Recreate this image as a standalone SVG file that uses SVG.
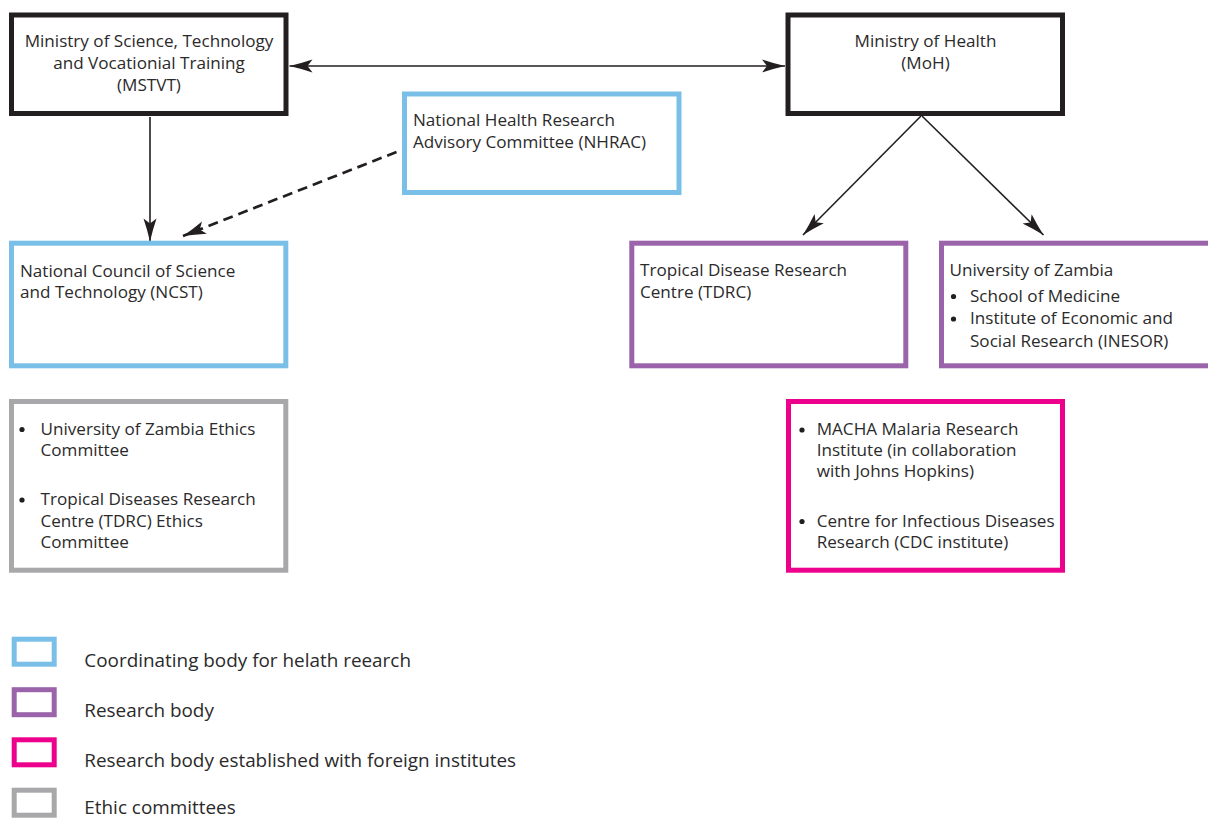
<svg xmlns="http://www.w3.org/2000/svg" width="1208" height="820" viewBox="0 0 1208 820">
<style>
text{font-family:"Open Sans","Liberation Sans",sans-serif;font-size:17.1px;fill:#2b2a2b}
.c{text-anchor:middle}
.lg{font-size:18.9px}
.box{fill:#fff;stroke-width:5}
.k{stroke:#231f20}
.b{stroke:#79bfe8}
.p{stroke:#9a63aa}
.m{stroke:#ec008c}
.g{stroke:#a8a8ab}
.ln{fill:none;stroke:#231f20;stroke-width:1.6}
.ds{fill:none;stroke:#231f20;stroke-width:2.7;stroke-dasharray:10 6}
.dot{fill:#231f20}
</style>
<defs>
<marker id="ah" viewBox="-24 -8 26 16" refX="0" refY="0" markerWidth="26" markerHeight="16" markerUnits="userSpaceOnUse" orient="auto-start-reverse">
<path d="M0,0 Q-11,-2.5 -23,-6.5 L-18,0 L-23,6.5 Q-11,2.5 0,0 Z" fill="#231f20"/>
</marker>
</defs>
<g id="connectors">
<line class="ln" x1="289.5" y1="66" x2="785" y2="66" marker-start="url(#ah)" marker-end="url(#ah)"/>
<line class="ln" x1="150" y1="117" x2="150" y2="241.5" marker-end="url(#ah)"/>
<line class="ds" x1="396.5" y1="152" x2="183" y2="236" marker-end="url(#ah)"/>
<line class="ln" x1="921" y1="116" x2="803" y2="235" marker-end="url(#ah)"/>
<line class="ln" x1="922" y1="116" x2="1043.5" y2="235" marker-end="url(#ah)"/>
</g>
<g id="mstvt">
<rect class="box k" x="11.5" y="15" width="274.5" height="98.5"/>
<text class="c" x="149" y="47">Ministry of Science, Technology</text>
<text class="c" x="149" y="69">and Vocationial Training</text>
<text class="c" x="149" y="91">(MSTVT)</text>
</g>
<g id="moh">
<rect class="box k" x="788" y="15" width="274.5" height="98.5"/>
<text class="c" x="925.5" y="47">Ministry of Health</text>
<text class="c" x="925.5" y="69">(MoH)</text>
</g>
<g id="nhrac">
<rect class="box b" x="404.5" y="94" width="274.5" height="98.5"/>
<text x="413" y="126">National Health Research</text>
<text x="413" y="148">Advisory Committee (NHRAC)</text>
</g>
<g id="ncst">
<rect class="box b" x="11.5" y="243.2" width="274.3" height="122.6"/>
<text x="20" y="276.5">National Council of Science</text>
<text x="20" y="298">and Technology (NCST)</text>
</g>
<g id="tdrc">
<rect class="box p" x="631.8" y="243.2" width="274" height="122.6"/>
<text x="640" y="276">Tropical Disease Research</text>
<text x="640" y="297.5">Centre (TDRC)</text>
</g>
<g id="unza">
<rect class="box p" x="941.5" y="243.2" width="274.5" height="122.6"/>
<text x="949.5" y="276">University of Zambia</text>
<circle class="dot" cx="953.5" cy="296.5" r="2.6"/>
<text x="970" y="301.5">School of Medicine</text>
<circle class="dot" cx="953.5" cy="319" r="2.6"/>
<text x="970" y="324">Institute of Economic and</text>
<text x="970" y="346.5">Social Research (INESOR)</text>
</g>
<g id="ethics">
<rect class="box g" x="11.5" y="401.5" width="274.3" height="168.7"/>
<circle class="dot" cx="22" cy="429.5" r="2.6"/>
<text x="40.5" y="434.5">University of Zambia Ethics</text>
<text x="40.5" y="456">Committee</text>
<circle class="dot" cx="22" cy="500" r="2.6"/>
<text x="40.5" y="505">Tropical Diseases Research</text>
<text x="40.5" y="526.5">Centre (TDRC) Ethics</text>
<text x="40.5" y="548">Committee</text>
</g>
<g id="macha">
<rect class="box m" x="788.5" y="401.5" width="274" height="168.7"/>
<circle class="dot" cx="802" cy="430" r="2.6"/>
<text x="816.7" y="435">MACHA Malaria Research</text>
<text x="816.7" y="456">Institute (in collaboration</text>
<text x="816.7" y="477">with Johns Hopkins)</text>
<circle class="dot" cx="802" cy="521.5" r="2.6"/>
<text x="816.7" y="526.5">Centre for Infectious Diseases</text>
<text x="816.7" y="548">Research (CDC institute)</text>
</g>
<g id="legend">
<rect class="box b" x="14.2" y="639.2" width="40" height="25"/>
<text class="lg" x="84.3" y="666.5">Coordinating body for helath reearch</text>
<rect class="box p" x="14.2" y="689.7" width="40" height="25"/>
<text class="lg" x="84.3" y="717">Research body</text>
<rect class="box m" x="14.2" y="739.8" width="40" height="25"/>
<text class="lg" x="84.3" y="767">Research body established with foreign institutes</text>
<rect class="box g" x="14.2" y="790.2" width="40" height="25"/>
<text class="lg" x="84.3" y="814">Ethic committees</text>
</g>
</svg>
